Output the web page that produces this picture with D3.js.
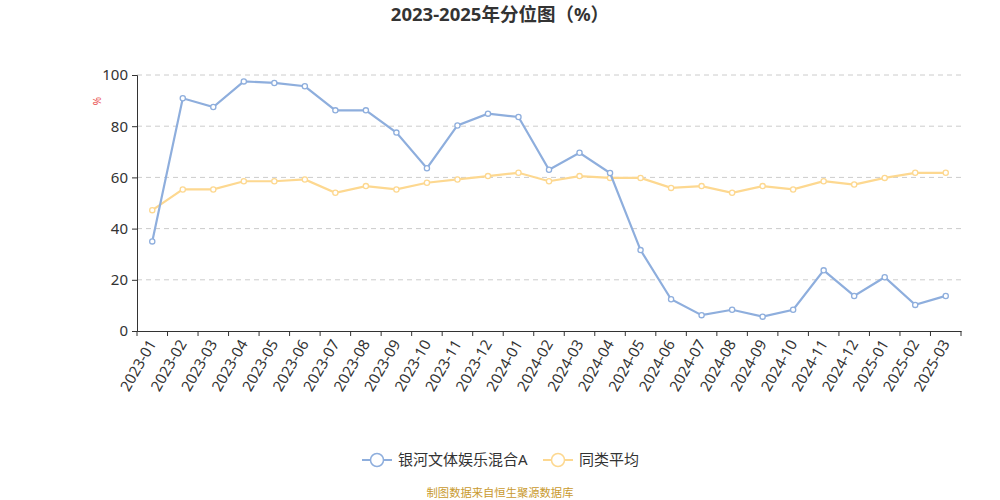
<!DOCTYPE html>
<html>
<head>
<meta charset="utf-8">
<script src="https://cdn.jsdelivr.net/npm/d3@7"></script>
<style>
  body { margin: 0; background: #fff; }
  text { font-family: "Noto Sans", "Noto Sans CJK SC", sans-serif; }
</style>
</head>
<body>
<div id="chart"></div>
<script>
// months on the x axis
const months = ["2023-01","2023-02","2023-03","2023-04","2023-05","2023-06","2023-07","2023-08","2023-09","2023-10","2023-11","2023-12",
  "2024-01","2024-02","2024-03","2024-04","2024-05","2024-06","2024-07","2024-08","2024-09","2024-10","2024-11","2024-12",
  "2025-01","2025-02","2025-03"];
// fund percentile
const fundValues = [35.0, 90.9, 87.5, 97.5, 96.9, 95.6, 86.2, 86.2, 77.5, 63.6, 80.3, 84.9,
  83.6, 63.0, 69.6, 61.7, 31.6, 12.4, 6.2, 8.3, 5.6, 8.3, 23.7, 13.7,
  21.0, 10.2, 13.7];
// peer average
const avgValues = [47.2, 55.3, 55.3, 58.5, 58.5, 59.2, 54.0, 56.6, 55.3, 57.9, 59.2, 60.5,
  61.8, 58.5, 60.5, 59.8, 59.8, 55.9, 56.6, 54.0, 56.6, 55.3, 58.5, 57.2,
  59.8, 61.8, 61.8];
const yTicks = [0, 20, 40, 60, 80, 100];
const seriesNames = ["银河文体娱乐混合A", "同类平均"];

const width = 1000;
const height = 500;
const margin = { top: 75, right: 39, bottom: 169, left: 137 };

const svg = d3.select("#chart")
  .append("svg")
  .attr("width", width)
  .attr("height", height);

const xScale = d3.scaleBand()
  .domain(months)
  .range([margin.left, width - margin.right]);

const yScale = d3.scaleLinear()
  .domain([0, 100])
  .range([height - margin.bottom, margin.top]);

// grid lines
svg.append("g")
  .selectAll("line")
  .data(yTicks.filter(d => d > 0))
  .enter()
  .append("line")
  .attr("x1", margin.left)
  .attr("x2", width - margin.right)
  .attr("y1", d => yScale(d))
  .attr("y2", d => yScale(d))
  .attr("stroke", "#cccccc")
  .attr("stroke-dasharray", "5,4");

// y axis
const yAxis = svg.append("g")
  .attr("transform", `translate(${margin.left},0)`)
  .call(d3.axisLeft(yScale).tickValues(yTicks).tickSize(5).tickPadding(4));
yAxis.select(".domain").attr("stroke", "#333");
yAxis.selectAll(".tick line").attr("stroke", "#333");
yAxis.selectAll(".tick text")
  .attr("fill", "#333")
  .style("font-size", "15px");

// x axis, ticks on band edges
const xAxis = svg.append("g")
  .attr("transform", `translate(0,${height - margin.bottom})`)
  .call(d3.axisBottom(xScale).tickSize(0).tickFormat(""));
xAxis.select(".domain").attr("stroke", "#333");

const edges = months.map(m => xScale(m)).concat([xScale.range()[1]]);
xAxis.selectAll(".edge")
  .data(edges)
  .enter()
  .append("line")
  .attr("class", "edge")
  .attr("x1", d => d)
  .attr("x2", d => d)
  .attr("y1", 0)
  .attr("y2", 5)
  .attr("stroke", "#333");

xAxis.selectAll(".lbl")
  .data(months)
  .enter()
  .append("text")
  .attr("class", "lbl")
  .attr("transform", d => `translate(${xScale(d) + xScale.bandwidth() / 2},10) rotate(-60)`)
  .attr("text-anchor", "end")
  .attr("dy", "0.35em")
  .attr("fill", "#333")
  .style("font-size", "15px")
  .text(d => d);

// unit label
svg.append("text")
  .attr("transform", "translate(97,101) rotate(-90)")
  .attr("text-anchor", "middle")
  .attr("dy", "0.35em")
  .attr("fill", "#e84a4a")
  .style("font-size", "10px")
  .text("%");

const cx = d => xScale(d) + xScale.bandwidth() / 2;

const lineGenerator = d3.line()
  .x(d => cx(d.m))
  .y(d => yScale(d.v));

const series = [
  { name: seriesNames[0], color: "#8eaedd", values: fundValues },
  { name: seriesNames[1], color: "#fdd890", values: avgValues }
];

// draw average first so the fund line sits on top
series.slice().reverse().forEach(s => {
  const pts = months.map((m, i) => ({ m: m, v: s.values[i] }));
  svg.append("path")
    .datum(pts)
    .attr("fill", "none")
    .attr("stroke", s.color)
    .attr("stroke-width", 2.2)
    .attr("d", lineGenerator);

  svg.append("g")
    .selectAll("circle")
    .data(pts)
    .enter()
    .append("circle")
    .attr("cx", d => cx(d.m))
    .attr("cy", d => yScale(d.v))
    .attr("r", 2.6)
    .attr("fill", "#fff")
    .attr("stroke", s.color)
    .attr("stroke-width", 1.3);
});

// title
svg.append("text")
  .attr("x", width / 2)
  .attr("y", 15)
  .attr("text-anchor", "middle")
  .attr("dy", "0.35em")
  .attr("fill", "#333")
  .style("font-size", "18.5px")
  .style("font-weight", "bold")
  .text("2023-2025年分位图（%）");

// legend
const legendX = [362, 543];
series.forEach((s, i) => {
  const g = svg.append("g").attr("transform", `translate(${legendX[i]},460)`);
  g.append("line")
    .attr("x1", 0).attr("x2", 30)
    .attr("stroke", s.color)
    .attr("stroke-width", 2);
  g.append("circle")
    .attr("cx", 15)
    .attr("r", 6.5)
    .attr("fill", "#fff")
    .attr("stroke", s.color)
    .attr("stroke-width", 1.5);
  g.append("text")
    .attr("x", 36)
    .attr("dy", "0.35em")
    .attr("fill", "#333")
    .style("font-size", "15px")
    .text(s.name);
});

// source note
svg.append("text")
  .attr("x", width / 2)
  .attr("y", 493)
  .attr("text-anchor", "middle")
  .attr("dy", "0.35em")
  .attr("fill", "#c99a2e")
  .style("font-size", "11.3px")
  .text("制图数据来自恒生聚源数据库");
</script>
</body>
</html>
